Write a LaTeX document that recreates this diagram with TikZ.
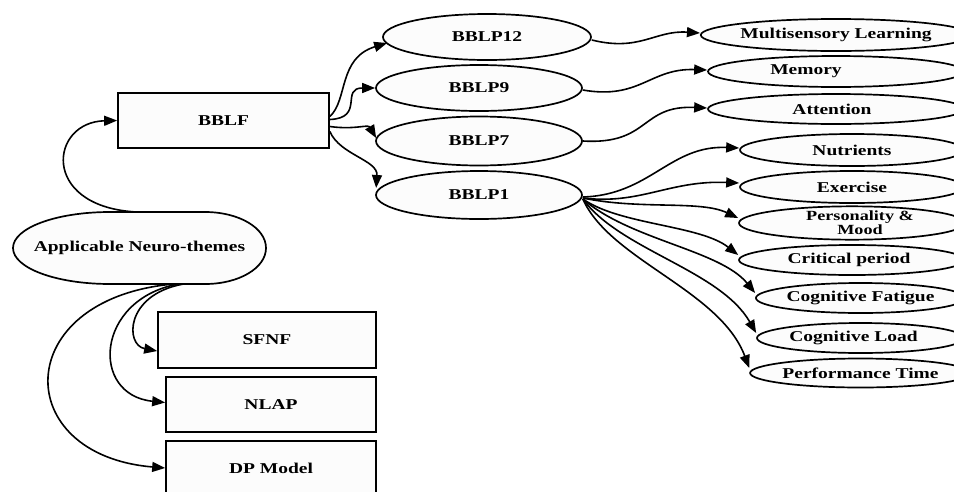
\documentclass[tikz,border=0pt]{standalone}
\usepackage{fontspec}
\setmainfont{Liberation Serif}[FakeStretch=1.3]
\usetikzlibrary{shapes.geometric,arrows.meta}
\definecolor{nodefill}{RGB}{252,252,252}
\begin{document}
\begin{tikzpicture}[x=1pt,y=-1pt,
  every node/.style={font=\fontsize{15}{16}\selectfont\bfseries, inner sep=0pt},
  box/.style={draw, line width=1.7pt, fill=nodefill, rectangle},
  ell/.style={draw, line width=1.7pt, fill=nodefill, ellipse},
  outline/.style={draw, line width=1.7pt, fill=nodefill},
  link/.style={line width=1.6pt, -{Triangle[length=13pt,width=10pt]}}
]
\useasboundingbox (0,0) rectangle (954,491);
\clip (0,0) rectangle (954,491);

% left column
\path[outline] (110,212) -- (205,212) .. controls (239,212) and (266,228) .. (266,248)
  .. controls (266,268) and (239,284) .. (205,284) -- (110,284)
  .. controls (56,284) and (13,268) .. (13,248) .. controls (13,228) and (56,212) .. (110,212) -- cycle;
\node[minimum width=253pt, minimum height=72pt] (app) at (139.5,248) {Applicable Neuro-themes};
\node[box, minimum width=211pt, minimum height=55pt] (bblf) at (223.5,120.5) {BBLF};
\node[box, minimum width=218pt, minimum height=56pt] (sfnf) at (267,340) {SFNF};
\node[box, minimum width=210pt, minimum height=55pt] (nlap) at (271,404.5) {NLAP};
\node[box, minimum width=210pt, minimum height=55pt] (dp) at (271,468.5) {DP Model};

% middle ellipses
\node[ell, minimum width=208pt, minimum height=46pt] (b12) at (487,37) {BBLP12};
\node[ell, minimum width=206pt, minimum height=46pt] (b9) at (479,88) {BBLP9};
\node[ell, minimum width=206pt, minimum height=49pt] (b7) at (479,141) {BBLP7};
\node[ell, minimum width=206pt, minimum height=48pt] (b1) at (479,195) {BBLP1};

% right ellipses
\node[ell, minimum width=256pt, minimum height=32pt] (ms) at (836,35) {Multisensory Learning};
\node[ell, minimum width=256pt, minimum height=31pt] (mem) at (836,71.5) {Memory\hspace*{60pt}};
\node[ell, minimum width=256pt, minimum height=30pt] (att) at (836,109) {Attention\hspace*{8pt}};
\node[ell, minimum width=224pt, minimum height=32pt] (nut) at (852,150) {Nutrients};
\node[ell, minimum width=224pt, minimum height=32pt] (exe) at (852,187) {Exercise};
\node[ell, minimum width=226pt, minimum height=30pt, align=center, font=\fontsize{14}{11}\selectfont\bfseries] (pm) at (852,223) {\hspace*{16pt}Personality \&\\\hspace*{16pt}Mood};
\node[ell, minimum width=226pt, minimum height=30pt] (cp) at (852,260) {Critical period\hspace*{6pt}};
\node[ell, minimum width=207pt, minimum height=30pt] (cf) at (860.5,298) {Cognitive Fatigue};
\node[ell, minimum width=207pt, minimum height=30pt] (cl) at (860.5,338) {Cognitive Load\hspace*{14pt}};
\node[ell, minimum width=207pt, minimum height=29pt] (pt) at (860.5,373) {Performance Time};

% connectors from Applicable Neuro-themes
\draw[link] ([xshift=-6pt]app.north) .. controls (40,205) and (50,122) .. (bblf.west);
\draw[link] ([xshift=43pt]app.south) .. controls (125,295) and (125,345) .. ([yshift=-11pt]sfnf.west);
\draw[link] ([xshift=38pt]app.south) .. controls (95,300) and (90,395) .. ([yshift=2pt]nlap.west);
\draw[link] ([xshift=32pt]app.south) .. controls (10,300) and (10,455) .. ([yshift=0.5pt]dp.west);

% connectors from BBLF
\draw[link] ([yshift=4pt]bblf.east) .. controls (348,100) and (338,58) .. ([xshift=5pt,yshift=-6pt]b12.west);
\draw[link] ([yshift=1pt]bblf.east) .. controls (365,118) and (340,88) .. (b9.west);
\draw[link] ([yshift=-6pt]bblf.east) .. controls (355,130) and (368,124) .. ([xshift=1pt,yshift=3pt]b7.west);
\draw[link] ([yshift=-11pt]bblf.east) .. controls (340,155) and (378,160) .. ([xshift=1pt,yshift=7pt]b1.west);

% connectors to right column
\draw[link] ([yshift=-3pt]b12.east) .. controls (640,52) and (655,30) .. ([yshift=2pt]ms.west);
\draw[link] ([yshift=-2pt]b9.east) .. controls (640,100) and (650,68) .. ([yshift=1.5pt]mem.west);
\draw[link] (b7.east) .. controls (650,145) and (640,105) .. ([yshift=1pt]att.west);
\draw[link] ([yshift=-2pt]b1.east) .. controls (650,195) and (670,145) .. ([yshift=2pt]nut.west);
\draw[link] ([yshift=-3pt]b1.east) .. controls (640,205) and (670,180) .. ([yshift=4pt]exe.west);
\draw[link] ([yshift=-3pt]b1.east) .. controls (640,210) and (700,200) .. ([yshift=5pt]pm.west);
\draw[link] ([yshift=-4pt]b1.east) .. controls (620,225) and (700,225) .. ([yshift=5pt]cp.west);
\draw[link] ([yshift=-4pt]b1.east) .. controls (630,240) and (720,250) .. ([yshift=5pt]cf.west);
\draw[link] ([yshift=-4pt]b1.east) .. controls (620,250) and (720,270) .. ([yshift=5pt]cl.west);
\draw[link] ([yshift=-4pt]b1.east) .. controls (610,260) and (720,290) .. ([yshift=5pt]pt.west);
\end{tikzpicture}
\end{document}
